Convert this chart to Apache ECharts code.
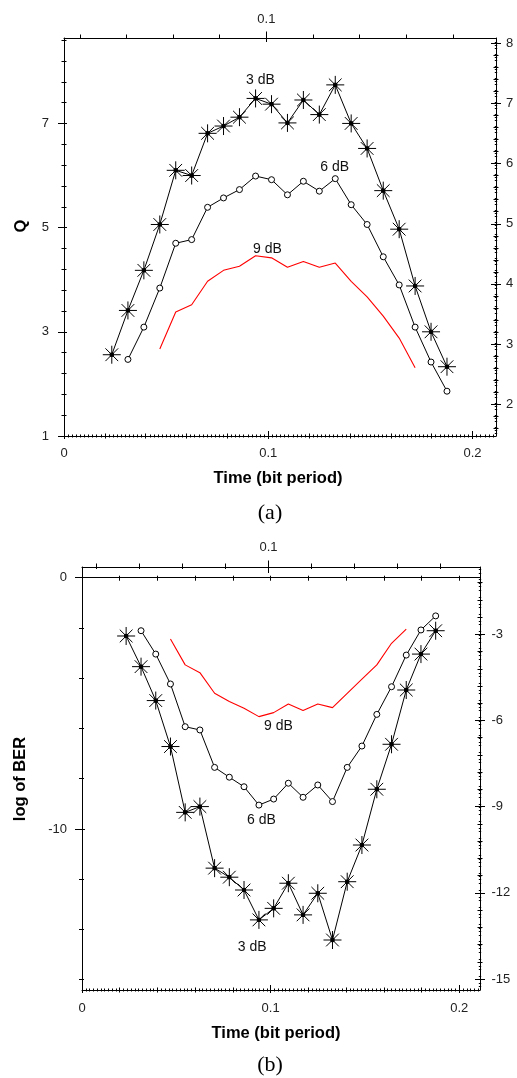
<!DOCTYPE html>
<html>
<head>
<meta charset="utf-8">
<script src="https://cdn.jsdelivr.net/npm/echarts@6/dist/echarts.min.js"></script>
<style>
html,body{margin:0;padding:0;background:#fff;}
#chart{width:517px;height:1078px;}
</style>
</head>
<body>
<div id="chart"></div>
<script>
// ---------------- data ----------------
const time3dB = [0.0234,0.0313,0.0391,0.0469,0.0547,0.0625,0.0703,0.0781,0.0859,0.0938,0.1016,0.1094,0.1172,0.1250,0.1328,0.1406,0.1484,0.1563,0.1641,0.1719,0.1797,0.1875];
const time6dB = [0.0313,0.0391,0.0469,0.0547,0.0625,0.0703,0.0781,0.0859,0.0938,0.1016,0.1094,0.1172,0.1250,0.1328,0.1406,0.1484,0.1563,0.1641,0.1719,0.1797,0.1875];
const time9dB = [0.0469,0.0547,0.0625,0.0703,0.0781,0.0859,0.0938,0.1016,0.1094,0.1172,0.1250,0.1328,0.1406,0.1484,0.1563,0.1641,0.1719];

// panel (a): Q
const q3dB = [2.56,3.41,4.18,5.06,6.10,6.00,6.81,6.95,7.12,7.48,7.37,7.01,7.45,7.17,7.74,7.00,6.52,5.71,4.97,3.88,3.00,2.33];
const q6dB = [2.47,3.09,3.84,4.70,4.77,5.39,5.57,5.73,5.99,5.92,5.63,5.89,5.70,5.94,5.44,5.06,4.44,3.90,3.09,2.42,1.86];
const q9dB = [2.67,3.38,3.52,3.97,4.18,4.26,4.46,4.42,4.24,4.35,4.24,4.32,3.97,3.67,3.30,2.88,2.31];

// panel (b): log of BER
const ber3dB = [-2.32,-3.54,-4.89,-6.72,-9.34,-9.11,-11.56,-11.92,-12.43,-13.62,-13.16,-12.16,-13.42,-12.56,-14.42,-12.10,-10.64,-8.42,-6.63,-4.47,-3.04,-2.11];
const ber6dB = [-2.11,-3.04,-4.23,-5.93,-6.06,-7.55,-7.94,-8.32,-9.05,-8.81,-8.18,-8.74,-8.25,-8.91,-7.55,-6.70,-5.44,-4.34,-3.08,-2.08,-1.52];
const ber9dB = [-2.44,-3.47,-3.78,-4.60,-4.93,-5.20,-5.53,-5.37,-5.03,-5.29,-5.03,-5.17,-4.60,-4.04,-3.47,-2.61,-2.05];

const seriesNames = ['3 dB','6 dB','9 dB'];

// tick labels
const timeTickLabels = [0, 0.1, 0.2];
const topTickLabels = [0.1];
const qTickLabels = [1, 3, 5, 7];
const qRightTickLabels = [2, 3, 4, 5, 6, 7, 8];
const berTickLabels = [0, -10];
const berRightTickLabels = [-3, -6, -9, -12, -15];

// axis ranges
const timeRangeA = [0, 0.2115];
const timeRangeB = [0, 0.211];
const topRange = [0.0132, 0.1985];
const qRange = [1, 8.64];
const qRightRange = [1.47, 8.09];
const berRange = [-16.41, 0.426];
const berRightRange = [-15.38, -0.657];

// annotation anchors (data coordinates)
const notesA = [[0.0962, 7.84], [0.1325, 6.16], [0.0996, 4.58]];
const notesB = [[0.0902, -14.70], [0.0951, -9.64], [0.1041, -5.91]];

// ---------------- helpers ----------------
function pairs(xs, ys) { return xs.map((x, i) => [x, ys[i]]); }
function steps(a, b, s) {
  const out = []; const n = Math.round((b - a) / s);
  for (let i = 0; i <= n; i++) out.push(+(a + i * s).toFixed(4));
  return out;
}
const BLACK = '#000';
const LABEL_FONT = 'Liberation Sans';

function baseAxis(grid, pos, range) {
  return {
    type: 'value', gridIndex: grid, position: pos, min: range[0], max: range[1],
    splitLine: {show: false}, axisLine: {show: false, onZero: false},
    axisLabel: {show: false}, axisTick: {show: false}, minorTick: {show: false},
    silent: true, axisPointer: {show: false}
  };
}
function tick(vals, len, inside) {
  return {show: true, customValues: vals, length: len, inside: inside, lineStyle: {color: BLACK, width: 1}};
}
function addSide(list, grid, pos, range, s) {
  const mainIdx = list.length;
  const main = baseAxis(grid, pos, range);
  main.axisLine = {show: true, onZero: false, lineStyle: {color: BLACK, width: 1}};
  main.axisLabel = {show: true, customValues: s.labels, margin: s.margin, color: '#222',
                    fontSize: 13, fontFamily: LABEL_FONT};
  main.axisTick = tick(s.labels, s.lOut, false);
  list.push(main);
  if (s.lIn) { const a = baseAxis(grid, pos, range); a.axisTick = tick(s.labels, s.lIn, true); list.push(a); }
  if (s.ticks) {
    const a = baseAxis(grid, pos, range); a.axisTick = tick(s.ticks, s.tOut, false); list.push(a);
    const b = baseAxis(grid, pos, range); b.axisTick = tick(s.ticks, s.tIn, true); list.push(b);
  }
  if (s.minor) {
    [false, true].forEach(inside => {
      const a = baseAxis(grid, pos, range);
      a.interval = s.minor.interval;
      a.axisTick = {show: false, inside: inside};
      a.minorTick = {show: true, splitNumber: s.minor.split, length: s.minor.len, lineStyle: {color: BLACK, width: 1}};
      list.push(a);
    });
  }
  return mainIdx;
}

const xAxes = [], yAxes = [];

// ----- panel (a) -----
const xA = addSide(xAxes, 0, 'bottom', timeRangeA, {labels: timeTickLabels, margin: 11, lOut: 3, lIn: 5,
  ticks: steps(0, 0.2, 0.02), tOut: 2.5, tIn: 2.5, minor: {interval: 0.02, split: 10, len: 1.5}});
addSide(xAxes, 0, 'top', topRange, {labels: topTickLabels, margin: 12, lOut: 6.5, lIn: 4,
  ticks: steps(0.02, 0.18, 0.02), tOut: 3.5, tIn: 1});
const yA = addSide(yAxes, 0, 'left', qRange, {labels: qTickLabels, margin: 15, lOut: 6, lIn: 3,
  ticks: steps(1, 8.6, 0.4), tOut: 2.5, tIn: 2.5});
addSide(yAxes, 0, 'right', qRightRange, {labels: qRightTickLabels, margin: 10, lOut: 5, lIn: 5,
  ticks: steps(1.6, 8.0, 0.2), tOut: 2.5, tIn: 2.5, minor: {interval: 0.2, split: 4, len: 1.2}});

// ----- panel (b) -----
const xB = addSide(xAxes, 1, 'bottom', timeRangeB, {labels: timeTickLabels, margin: 11.5, lOut: 3, lIn: 5,
  ticks: steps(0, 0.2, 0.02), tOut: 2.5, tIn: 2.5, minor: {interval: 0.02, split: 10, len: 1.5}});
addSide(xAxes, 1, 'top', topRange, {labels: topTickLabels, margin: 13.5, lOut: 6.5, lIn: 6,
  ticks: steps(0.02, 0.18, 0.02), tOut: 3.5, tIn: 2});
const yB = addSide(yAxes, 1, 'left', berRange, {labels: berTickLabels, margin: 15, lOut: 7, lIn: 3,
  ticks: steps(-16, 0, 2), tOut: 3, tIn: 2});
addSide(yAxes, 1, 'right', berRightRange, {labels: berRightTickLabels, margin: 11.5, lOut: 5, lIn: 5,
  ticks: steps(-15, -1.2, 0.6), tOut: 2.5, tIn: 2.5, minor: {interval: 0.6, split: 5, len: 1.2}});
// zero line of panel (b), carrying the time-scale ticks
[[false, 3], [true, 2]].forEach(([inside, len]) => {
  const a = baseAxis(1, 'bottom', timeRangeB);
  a.axisLine = {show: !inside, onZero: true, onZeroAxisIndex: yB, lineStyle: {color: BLACK, width: 1}};
  a.axisTick = tick(steps(0.02, 0.2, 0.02), len, inside);
  xAxes.push(a);
});

// ---------------- series ----------------
const STAR = 'path://M0 -10 L0 10 M-10 0 L10 0 M-7.07 -7.07 L7.07 7.07 M-7.07 7.07 L7.07 -7.07 M-1.8 -1.8 L1.8 -1.8 L1.8 1.8 L-1.8 1.8 Z';

function note(text, coord) {
  return {
    symbol: 'circle', symbolSize: 1, silent: true,
    itemStyle: {color: 'rgba(0,0,0,0)'},
    label: {show: true, position: 'inside', formatter: text, color: '#111', fontSize: 14, fontFamily: LABEL_FONT},
    data: [{coord: coord}]
  };
}
function starSeries(name, xi, yi, data, c) {
  return {type: 'line', name, xAxisIndex: xi, yAxisIndex: yi, data, symbol: STAR, symbolSize: 18,
    itemStyle: {color: BLACK, borderColor: BLACK, borderWidth: 1}, lineStyle: {color: BLACK, width: 1},
    emphasis: {disabled: true}, markPoint: note(name, c), z: 3};
}
function circleSeries(name, xi, yi, data, c) {
  return {type: 'line', name, xAxisIndex: xi, yAxisIndex: yi, data, symbol: 'circle', symbolSize: 6,
    itemStyle: {color: '#fff', borderColor: BLACK, borderWidth: 1}, lineStyle: {color: BLACK, width: 1},
    emphasis: {disabled: true}, markPoint: note(name, c), z: 3};
}
function redSeries(name, xi, yi, data, c) {
  return {type: 'line', name, xAxisIndex: xi, yAxisIndex: yi, data, showSymbol: false, symbol: 'none',
    lineStyle: {color: '#ff0000', width: 1.1}, emphasis: {disabled: true}, markPoint: note(name, c), z: 2};
}

const series = [
  starSeries(seriesNames[0], xA, yA, pairs(time3dB, q3dB), notesA[0]),
  circleSeries(seriesNames[1], xA, yA, pairs(time6dB, q6dB), notesA[1]),
  redSeries(seriesNames[2], xA, yA, pairs(time9dB, q9dB), notesA[2]),
  starSeries(seriesNames[0], xB, yB, pairs(time3dB, ber3dB), notesB[0]),
  circleSeries(seriesNames[1], xB, yB, pairs(time6dB, ber6dB), notesB[1]),
  redSeries(seriesNames[2], xB, yB, pairs(time9dB, ber9dB), notesB[2])
];

function txt(text, x, y, font, rot) {
  return {type: 'text', x: x, y: y, rotation: rot || 0, silent: true,
    style: {text: text, font: font, fill: '#000', align: 'center', verticalAlign: 'middle',
            textAlign: 'center', textVerticalAlign: 'middle'}};
}
const TITLE_FONT = 'bold 16.5px "Liberation Sans"';
const CAP_FONT = '22px "Liberation Serif"';

const chart = echarts.init(document.getElementById('chart'), null, {renderer: 'canvas'});
chart.setOption({
  animation: false,
  backgroundColor: '#fff',
  grid: [
    {left: 64, top: 38, width: 432, height: 398},
    {left: 82, top: 567, width: 398, height: 423}
  ],
  xAxis: xAxes,
  yAxis: yAxes,
  series: series,
  graphic: [
    txt('Q', 21, 226, TITLE_FONT, Math.PI / 2),
    txt('Time (bit period)', 278, 478, TITLE_FONT),
    txt('(a)', 270, 513, CAP_FONT),
    txt('log of BER', 20, 779, TITLE_FONT, Math.PI / 2),
    txt('Time (bit period)', 276, 1033, TITLE_FONT),
    txt('(b)', 270, 1065, CAP_FONT)
  ]
});
</script>
</body>
</html>
